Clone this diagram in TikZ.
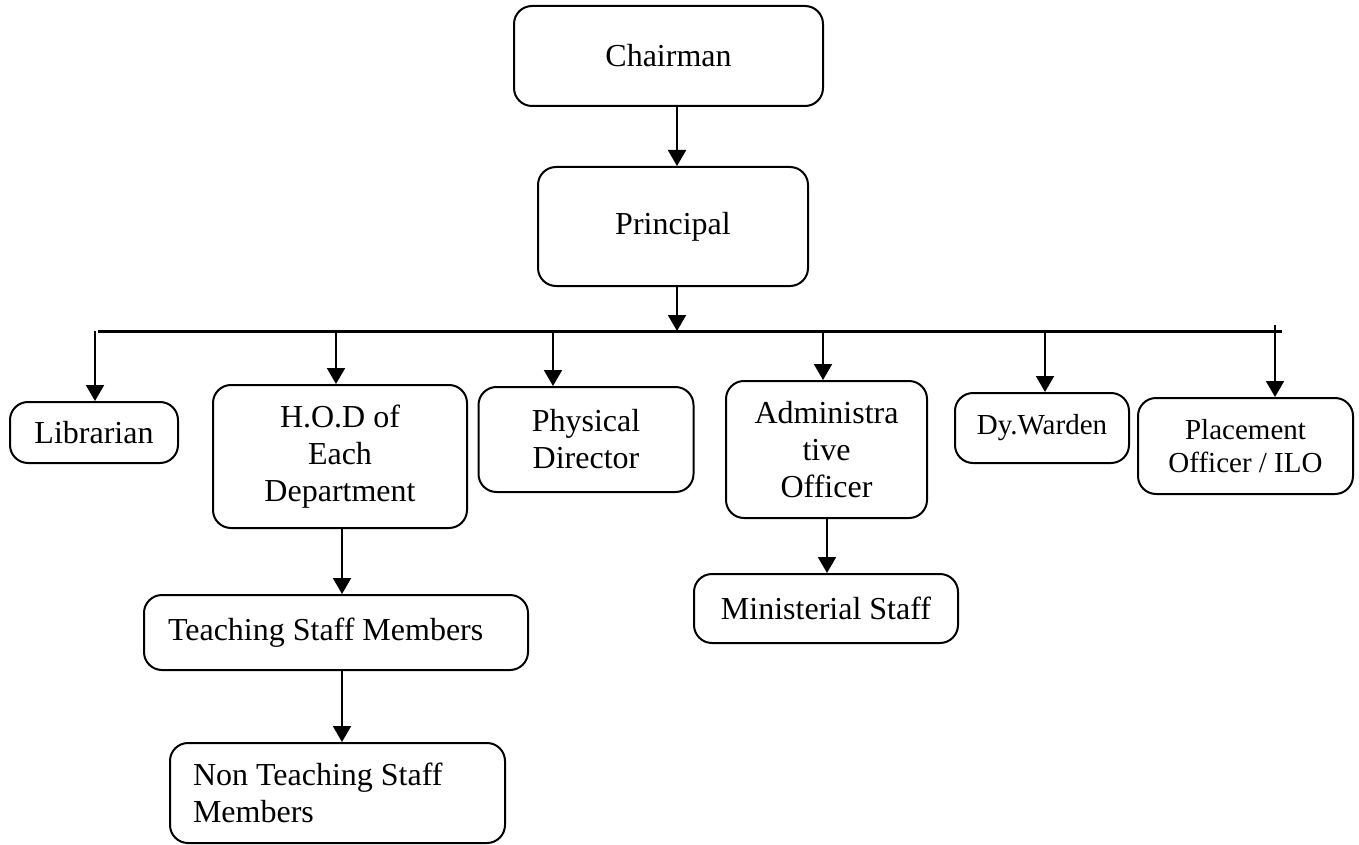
\documentclass[tikz,border=0pt]{standalone}
\usepackage{fontspec}
\setmainfont{Liberation Serif}
\usetikzlibrary{arrows.meta}
\tikzset{
  box/.style={draw, line width=1pt, rounded corners=9pt, inner sep=0pt, align=center, font=\fontsize{16}{18.5}\selectfont},
  smallbox/.style={box, font=\fontsize{14.5}{16.5}\selectfont},
  leftbox/.style={box, align=flush left, inner xsep=11.5pt},
  arr/.style={line width=1pt, -{Triangle[length=8pt,width=9pt]}},
  bus/.style={line width=1.5pt}
}
\begin{document}
\begin{tikzpicture}[x=0.5pt, y=-0.5pt]
                \useasboundingbox (0,0) rectangle (1359,845) ;
                \node[box, minimum width=154.5pt, minimum height=50pt] (chair) at (668.5,56) {\raisebox{-3pt}{Chairman}} ;
                \node[box, minimum width=135pt, minimum height=59.5pt] (princ) at (673,226.5) {\raisebox{3pt}{Principal}} ;
                \node[box, minimum width=84pt, minimum height=30.5pt] (lib) at (94,432.5) {Librarian} ;
                \node[box, minimum width=127pt, minimum height=71.5pt] (hod) at (340,456.5) {H.O.D of\\Each\\Department} ;
                \node[box, minimum width=107.5pt, minimum height=52.5pt] (phys) at (586,439.5) {Physical\\Director} ;
                \node[box, minimum width=100.5pt, minimum height=68.5pt] (admin) at (826.5,449.5) {Administra\\tive\\Officer} ;
                \node[smallbox, minimum width=87pt, minimum height=35pt] (dyw) at (1042,428) {Dy.Warden} ;
                \node[smallbox, minimum width=107.5pt, minimum height=48pt] (place) at (1245.5,446) {Placement\\Officer / ILO} ;
                \node[box, minimum width=132pt, minimum height=34.5pt] (minis) at (826,608.5) {Ministerial Staff} ;
                \node[leftbox, inner xsep=12pt, text width=168pt, minimum height=37.5pt] (teach) at (336,632.5) {Teaching Staff Members} ;
                \node[leftbox, text width=144.5pt, minimum height=50pt] (nonteach) at (337.5,793) {Non Teaching Staff\\Members} ;
                \coordinate (bus) at (677,331) ;
                \draw[arr] (677,0 |- chair.south) -- (677,0 |- princ.north) ;
                \draw[arr] (bus |- princ.south) -- (bus) ;
                \draw[bus] (98,331) -- (1282,331) ;
                \foreach \n/\x in {lib/95, hod/336, phys/553, admin/823, dyw/1045}
                    \draw[arr] (\x,331) -- (\x,0 |- \n.north) ;
                \draw[arr] (1275,325) -- (1275,0 |- place.north) ;
                \draw[arr] (342,0 |- hod.south) -- (342,0 |- teach.north) ;
                \draw[arr] (342,0 |- teach.south) -- (342,0 |- nonteach.north) ;
                \draw[arr] (827,0 |- admin.south) -- (827,0 |- minis.north) ;
            \end{tikzpicture}
\end{document}
